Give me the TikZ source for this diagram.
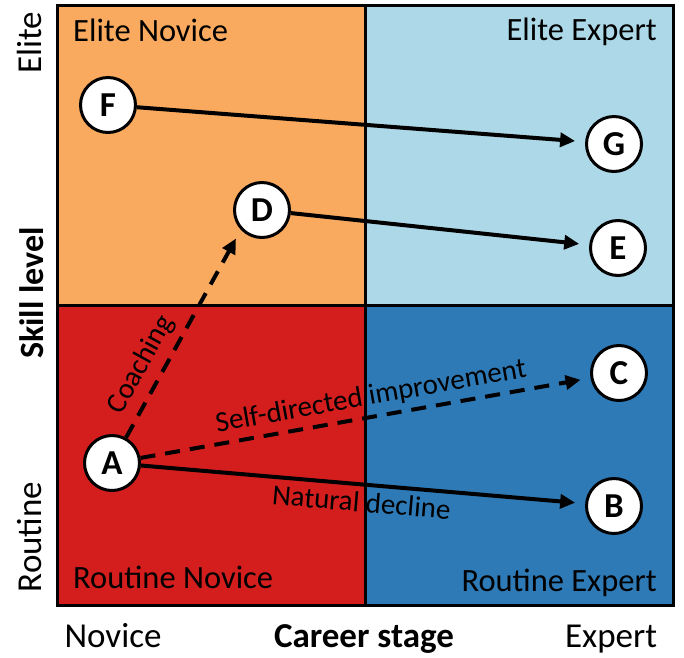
\documentclass[tikz,border=0pt]{standalone}
\usepackage{fontspec}
\setmainfont{Carlito}
\usetikzlibrary{arrows.meta}

\definecolor{novelite}{RGB}{250,170,95}
\definecolor{expelite}{RGB}{172,216,232}
\definecolor{novroutine}{RGB}{212,30,30}
\definecolor{exproutine}{RGB}{46,122,182}

\begin{document}
\begin{tikzpicture}[x=1pt, y=-1pt,
	stage/.style={circle, draw, line width=3pt, fill=white, minimum size=55pt,
		inner sep=0pt, font=\fontsize{35}{35}\selectfont\bfseries},
	move/.style={line width=4pt, shorten >=10pt,
		-{Triangle[length=15pt, width=14pt]}},
	trend/.style={font=\fontsize{29}{32}\selectfont, sloped},
	quad/.style={font=\fontsize{32.5}{36}\selectfont, inner sep=0pt},
	axis/.style={font=\fontsize{35}{40}\selectfont, inner sep=0pt}]
	\useasboundingbox (0,0) rectangle (684,657);

	% quadrants
	\fill[novelite] (57,5) rectangle (365,305);
	\fill[expelite] (365,5) rectangle (673,305);
	\fill[novroutine] (57,305) rectangle (365,605);
	\fill[exproutine] (365,305) rectangle (673,605);
	\draw[line width=3pt] (57,5) rectangle (673,605);
	\draw[line width=3pt] (365,5) -- (365,605);
	\draw[line width=3pt] (57,305) -- (673,305);

	\node (EN) at (73,41) [quad, anchor=base west] {Elite Novice};
	\node (EE) at (657,40) [quad, anchor=base east] {Elite Expert};
	\node (RN) at (73,588) [quad, anchor=base west] {Routine Novice};
	\node (RE) at (657,591) [quad, anchor=base east] {Routine Expert};

	% axes
	\node (xlo) at (113,647) [axis, anchor=base] {Novice};
	\node (xlab) at (364,647) [axis, anchor=base, font=\fontsize{35}{40}\selectfont\bfseries] {Career stage};
	\node (xhi) at (611,647) [axis, anchor=base] {Expert};
	\node (ylo) at (41,537) [axis, anchor=base, rotate=90] {Routine};
	\node (ylab) at (43,293) [axis, anchor=base, rotate=90, font=\fontsize{34}{40}\selectfont\bfseries] {Skill level};
	\node (yhi) at (41,43) [axis, anchor=base, rotate=90] {Elite};

	% players
	\node (A) at (112,463) [stage] {A};
	\node (B) at (614,506) [stage] {B};
	\node (C) at (619,373) [stage] {C};
	\node (D) at (262,210) [stage] {D};
	\node (E) at (618,248) [stage] {E};
	\node (F) at (108,105) [stage] {F};
	\node (G) at (614,144) [stage] {G};

	\draw[move] (F) -- (G);
	\draw[move] (D) -- (E);
	\draw[move, dash pattern=on 15pt off 10pt] (A) -- node[trend, above=4pt, pos=.3] {Coaching} (D.223);
	\draw[move, dash pattern=on 15pt off 10pt] (A) -- node[trend, above=2pt, pos=.52] {Self-directed improvement} (C);
	\draw[move] (A) -- node[trend, below=2pt, pos=.5] {Natural decline} (B);
\end{tikzpicture}
\end{document}
